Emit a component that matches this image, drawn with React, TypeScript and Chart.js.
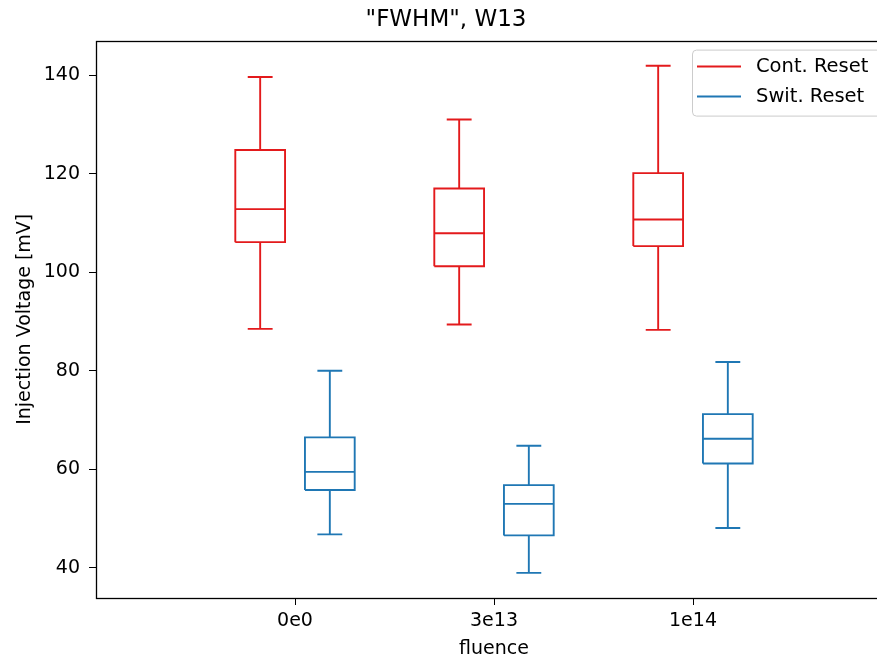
import React, { useEffect, useRef } from 'react';
import { Chart, registerables } from 'chart.js';

Chart.register(...registerables);

// ---- data ----
const categories = ['0e0', '3e13', '1e14'];
const seriesNames = ['Cont. Reset', 'Swit. Reset'];

const contWhiskerLow = [88.5, 89.4, 88.3];
const contQ1 = [106.1, 101.2, 105.3];
const contMedian = [112.8, 107.9, 110.7];
const contQ3 = [124.8, 117.0, 120.1];
const contWhiskerHigh = [139.6, 131.0, 141.9];

const switWhiskerLow = [46.8, 39.0, 48.1];
const switQ1 = [55.8, 46.6, 61.2];
const switMedian = [59.5, 53.0, 66.2];
const switQ3 = [66.5, 56.8, 71.2];
const switWhiskerHigh = [80.0, 64.8, 81.8];

const yTicks = [40, 60, 80, 100, 120, 140];

const RED = '#e31a1c';
const BLUE = '#1f77b4';
const FONT = '"DejaVu Sans", "Liberation Sans", sans-serif';

type Pt = { x: number; y: number | null };

function boxSegments(
  offset: number,
  low: number[],
  q1: number[],
  med: number[],
  q3: number[],
  high: number[]
): Pt[] {
  const halfBox = 0.125;
  const halfCap = 0.0625;
  const pts: Pt[] = [];
  categories.forEach((_, i) => {
    const c = i + 1 + offset;
    const gap = { x: c, y: null };
    // box
    pts.push(
      { x: c - halfBox, y: q1[i] },
      { x: c + halfBox, y: q1[i] },
      { x: c + halfBox, y: q3[i] },
      { x: c - halfBox, y: q3[i] },
      { x: c - halfBox, y: q1[i] },
      gap
    );
    // median
    pts.push({ x: c - halfBox, y: med[i] }, { x: c + halfBox, y: med[i] }, { ...gap });
    // whiskers
    pts.push({ x: c, y: q1[i] }, { x: c, y: low[i] }, { ...gap });
    pts.push({ x: c, y: q3[i] }, { x: c, y: high[i] }, { ...gap });
    // caps
    pts.push({ x: c - halfCap, y: low[i] }, { x: c + halfCap, y: low[i] }, { ...gap });
    pts.push({ x: c - halfCap, y: high[i] }, { x: c + halfCap, y: high[i] }, { ...gap });
  });
  return pts;
}

const framePlugin = {
  id: 'frame',
  afterDatasetsDraw(chart: any) {
    const { ctx, chartArea } = chart;
    ctx.save();
    ctx.strokeStyle = '#000';
    ctx.lineWidth = 1.3;
    ctx.strokeRect(
      Math.round(chartArea.left) + 0.5,
      Math.round(chartArea.top) + 0.5,
      Math.round(chartArea.right - chartArea.left),
      Math.round(chartArea.bottom - chartArea.top)
    );
    ctx.restore();
  },
};

const legendPlugin = {
  id: 'boxLegend',
  afterDraw(chart: any) {
    const { ctx, chartArea } = chart;
    const datasets = chart.data.datasets;
    ctx.save();
    const boxW = 190;
    const boxH = 66;
    const right = chartArea.right - 10;
    const top = chartArea.top + 9;
    const left = right - boxW;
    ctx.fillStyle = 'rgba(255,255,255,0.8)';
    ctx.strokeStyle = '#cccccc';
    ctx.lineWidth = 1;
    ctx.beginPath();
    (ctx as any).roundRect(left + 0.5, top + 0.5, boxW, boxH, 4);
    ctx.fill();
    ctx.stroke();
    ctx.font = `19.5px ${FONT}`;
    ctx.textBaseline = 'middle';
    ctx.textAlign = 'left';
    datasets.forEach((d: any, i: number) => {
      const y = top + 17 + i * 30;
      ctx.strokeStyle = d.borderColor;
      ctx.lineWidth = 2;
      ctx.beginPath();
      ctx.moveTo(left + 5, y);
      ctx.lineTo(left + 49, y);
      ctx.stroke();
      ctx.fillStyle = '#000';
      ctx.fillText(d.label, left + 64, y);
    });
    ctx.restore();
  },
};

export default function App() {
  const ref = useRef<HTMLCanvasElement | null>(null);

  useEffect(() => {
    if (!ref.current) return;
    Chart.defaults.font.family = FONT;
    const common = {
      showLine: true,
      spanGaps: false,
      borderWidth: 1.9,
      pointRadius: 0,
      pointHoverRadius: 0,
      borderJoinStyle: 'miter',
      borderCapStyle: 'butt',
    };
    const chart = new Chart(ref.current, {
      type: 'scatter',
      data: {
        datasets: [
          {
            ...common,
            label: seriesNames[0],
            data: boxSegments(-0.175, contWhiskerLow, contQ1, contMedian, contQ3, contWhiskerHigh) as any,
            borderColor: RED,
            backgroundColor: RED,
          },
          {
            ...common,
            label: seriesNames[1],
            data: boxSegments(0.175, switWhiskerLow, switQ1, switMedian, switQ3, switWhiskerHigh) as any,
            borderColor: BLUE,
            backgroundColor: BLUE,
          },
        ],
      },
      options: {
        animation: false,
        responsive: false,
        devicePixelRatio: 1,
        layout: { padding: { left: 0, right: 28, top: 0, bottom: 0 } },
        plugins: {
          legend: { display: false },
          tooltip: { enabled: false },
          title: {
            display: true,
            text: '"FWHM", W13',
            color: '#000',
            font: { size: 23, weight: 'normal', family: FONT },
            padding: { top: 6, bottom: 7 },
          },
        },
        scales: {
          x: {
            type: 'linear',
            min: 0,
            max: 4,
            afterBuildTicks: (s: any) => {
              s.ticks = categories.map((_, i) => ({ value: i + 1 }));
            },
            afterFit: (s: any) => {
              s.height = 60;
            },
            grid: {
              drawOnChartArea: false,
              drawTicks: true,
              tickLength: 7,
              tickColor: '#000',
              tickWidth: 1,
            },
            border: { display: false },
            ticks: {
              color: '#000',
              font: { size: 19, family: FONT },
              padding: 5,
              maxRotation: 0,
              autoSkip: false,
              callback: (_v: any, idx: number) => categories[idx],
            },
            title: {
              display: true,
              text: 'fluence',
              color: '#000',
              font: { size: 19, family: FONT },
              padding: { top: 0, bottom: -2 },
            },
          },
          y: {
            type: 'linear',
            min: 33.9,
            max: 147.0,
            afterBuildTicks: (s: any) => {
              s.ticks = yTicks.map((v) => ({ value: v }));
            },
            afterFit: (s: any) => {
              s.width = 96;
            },
            grid: {
              drawOnChartArea: false,
              drawTicks: true,
              tickLength: 7,
              tickColor: '#000',
              tickWidth: 1,
            },
            border: { display: false },
            ticks: {
              color: '#000',
              font: { size: 19, family: FONT },
              padding: 9,
            },
            title: {
              display: true,
              text: 'Injection Voltage [mV]',
              color: '#000',
              font: { size: 19, family: FONT },
              padding: { top: 14, bottom: 0 },
            },
          },
        },
      },
      plugins: [framePlugin, legendPlugin],
    } as any);
    return () => chart.destroy();
  }, []);

  return (
    <div
      style={{
        position: 'absolute',
        left: 0,
        top: 0,
        width: 877,
        height: 658,
        overflow: 'hidden',
        background: '#fff',
      }}
    >
      <canvas ref={ref} width={920} height={658} style={{ display: 'block', width: 920, height: 658 }} />
    </div>
  );
}
